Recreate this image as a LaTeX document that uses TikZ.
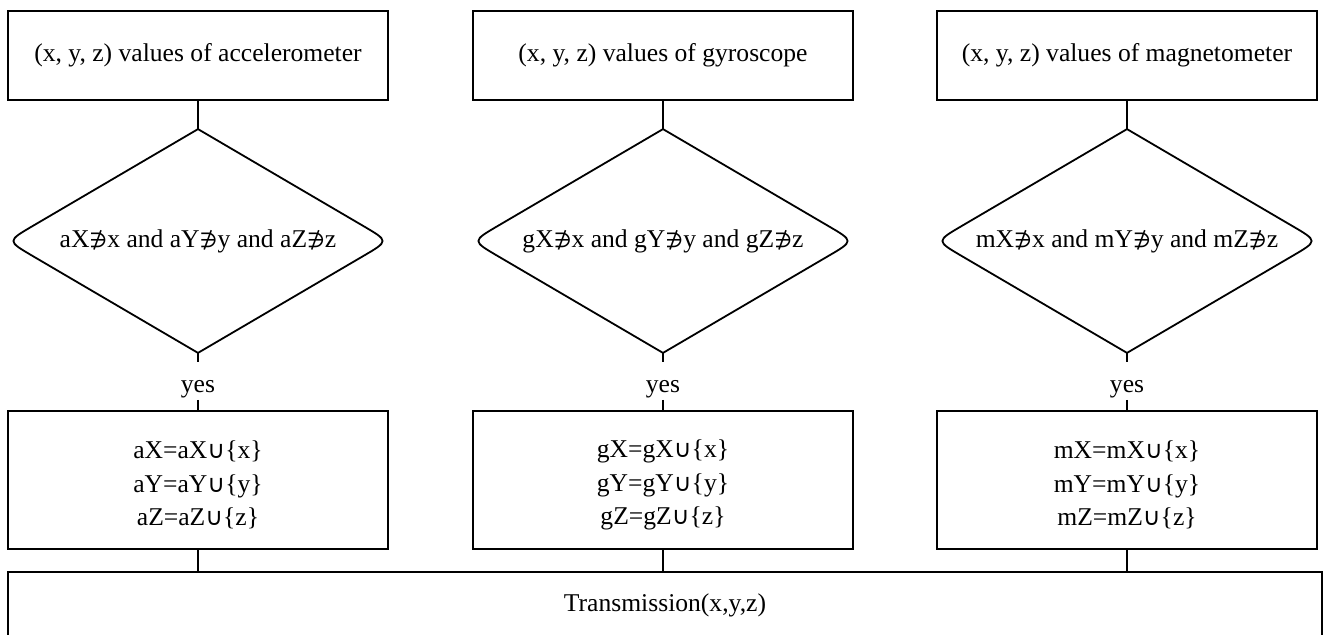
\documentclass[tikz,border=0pt]{standalone}
\usepackage{fontspec}
\setmainfont{Liberation Serif}
\newfontfamily\symfont{DejaVu Sans}[Scale=0.8]
\newfontfamily\unionfont{DejaVu Sans}[Scale=0.95]
\usetikzlibrary{calc}
\newcommand{\notcontains}{{\symfont ∌}}
\newcommand{\unionsym}{{\unionfont ∪}}

\tikzset{
  sensorbox/.style={draw, minimum width=380*0.75pt, minimum height=89*0.75pt, inner sep=0pt},
  updatebox/.style={draw, minimum width=380*0.75pt, minimum height=138*0.75pt, inner sep=0pt,
                    align=center},
  decision/.style={minimum width=380*0.75pt, minimum height=222*0.75pt, inner sep=0pt},
  yeslabel/.style={inner sep=0pt, anchor=base, text height=29*0.75pt, text depth=7*0.75pt},
  finalbox/.style={draw, minimum width=1314*0.75pt, minimum height=66*0.75pt, inner sep=0pt},
}

% decision diamond outline with rounded left and right corners
\newcommand{\decisionoutline}[1]{%
  \draw (#1.north)
    -- ($(#1.west)!22pt!(#1.north)$) .. controls (#1.west) .. ($(#1.west)!22pt!(#1.south)$)
    -- (#1.south)
    -- ($(#1.east)!22pt!(#1.south)$) .. controls (#1.east) .. ($(#1.east)!22pt!(#1.north)$)
    -- cycle;}

% taller first line to sit the three update lines a little lower
\newcommand{\firstline}{\rule{0pt}{21pt}}

\begin{document}
\begin{tikzpicture}[x=0.75pt, y=-0.75pt, line width=1.35pt,
  font=\fontsize{19.2}{25}\selectfont]
  \useasboundingbox (0,0) rectangle (1328,635);
  \clip (0,0) rectangle (1328,635);

  % sensor inputs
  \node[sensorbox] (s1) at (198,55.5)  {(x, y, z) values of accelerometer};
  \node[sensorbox] (s2) at (663,55.5)  {(x, y, z) values of gyroscope};
  \node[sensorbox] (s3) at (1127,55.5) {(x, y, z) values of magnetometer};

  % membership tests
  \node[decision] (d1) at (198,241)  {aX\notcontains x and aY\notcontains y and aZ\notcontains z};
  \node[decision] (d2) at (663,241)  {gX\notcontains x and gY\notcontains y and gZ\notcontains z};
  \node[decision] (d3) at (1127,241) {mX\notcontains x and mY\notcontains y and mZ\notcontains z};
  \decisionoutline{d1}
  \decisionoutline{d2}
  \decisionoutline{d3}

  % yes branches
  \node[yeslabel] (y1) at (198,392)  {yes};
  \node[yeslabel] (y2) at (663,392)  {yes};
  \node[yeslabel] (y3) at (1127,392) {yes};

  % set updates
  \node[updatebox] (u1) at (198,480)  {\firstline aX=aX\unionsym\{x\}\\aY=aY\unionsym\{y\}\\aZ=aZ\unionsym\{z\}};
  \node[updatebox] (u2) at (663,480)  {\firstline gX=gX\unionsym\{x\}\\gY=gY\unionsym\{y\}\\gZ=gZ\unionsym\{z\}};
  \node[updatebox] (u3) at (1127,480) {\firstline mX=mX\unionsym\{x\}\\mY=mY\unionsym\{y\}\\mZ=mZ\unionsym\{z\}};

  % output
  \node[finalbox] (t) at (665,605) {Transmission(x,y,z)};

  % connectors
  \foreach \i in {1,2,3} {
    \draw (s\i.south) -- (d\i.north);
    \draw (d\i.south) -- (y\i.north);
    \draw (y\i.south) -- (u\i.north);
    \draw (u\i.south) -- (u\i.south |- t.north);
  }
\end{tikzpicture}
\end{document}
